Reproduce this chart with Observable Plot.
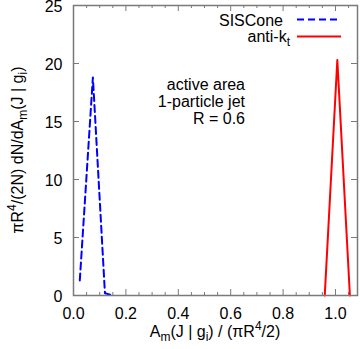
<!DOCTYPE html>
<html><head><meta charset="utf-8">
<script src="https://cdn.jsdelivr.net/npm/d3@7"></script>
<script src="https://cdn.jsdelivr.net/npm/@observablehq/plot@0.6"></script>
<style>html,body{margin:0;padding:0;background:#fff}#chart svg{display:block}</style>
</head><body><div id="chart"></div>
<script>
// ---- data ----
const sisconeX = [0.024, 0.074, 0.120, 0.153];
const sisconeY = [1.3, 18.8, 0.2, 0];
const antiktX = [0.959, 1.007, 1.055];
const antiktY = [0, 20.3, 0];
const xMajorTicks = [0, 0.2, 0.4, 0.6, 0.8, 1];
const xMinorTicks = [0.05, 0.1, 0.15, 0.25, 0.3, 0.35, 0.45, 0.5, 0.55, 0.65, 0.7, 0.75, 0.85, 0.9, 0.95, 1.05];
const yTicks = [0, 5, 10, 15, 20, 25];
const seriesNames = ["SISCone", "anti-k"];
const notes = ["active area", "1-particle jet", "R = 0.6"];

const sis = sisconeX.map((x, i) => ({x, y: sisconeY[i]}));
const akt = antiktX.map((x, i) => ({x, y: antiktY[i]}));

const W = 362, H = 349, mL = 73, mR = 5, mT = 5, mB = 54;
const frameH = H - mT - mB, frameW = W - mL - mR;
const font = "'Liberation Sans', Arial, Helvetica, sans-serif";
const axisColor = "#7a7a7a";
const blue = "#0000ff", red = "#ff0000";

const plot = Plot.plot({
  width: W, height: H,
  marginLeft: mL, marginRight: mR, marginTop: mT, marginBottom: mB,
  style: {fontFamily: font, fontSize: "16px", background: "#fff", color: "#000"},
  x: {domain: [0, 1.084]},
  y: {domain: [0, 25]},
  marks: [
    Plot.axisX({ticks: xMajorTicks, tickSize: 0, tickPadding: 12, fontSize: 16, label: null}),
    Plot.axisY({ticks: yTicks, tickSize: 0, tickPadding: 11, fontSize: 16, label: null, dy: 1}),
    Plot.tickX(xMajorTicks, {x: d => d, insetTop: frameH - 6, stroke: axisColor}),
    Plot.tickX(xMinorTicks, {x: d => d, insetTop: frameH - 3, stroke: axisColor}),
    Plot.tickX(xMajorTicks, {x: d => d, insetBottom: frameH - 6, stroke: axisColor}),
    Plot.tickX(xMinorTicks, {x: d => d, insetBottom: frameH - 3, stroke: axisColor}),
    Plot.tickY(yTicks, {y: d => d, insetRight: frameW - 6, stroke: axisColor}),
    Plot.tickY(yTicks, {y: d => d, insetLeft: frameW - 6, stroke: axisColor}),
    Plot.line(sis, {x: "x", y: "y", stroke: blue, strokeWidth: 2, strokeDasharray: "7,4"}),
    Plot.line(akt, {x: "x", y: "y", stroke: red, strokeWidth: 2}),
    Plot.frame({stroke: axisColor, strokeWidth: 1.5})
  ]
});
document.getElementById("chart").appendChild(plot);

const svg = d3.select(plot);
const g = svg.append("g").attr("font-family", font).attr("font-size", 16).attr("fill", "#000");

function rich(sel, parts) {
  let shift = 0;
  for (const [t, kind] of parts) {
    const target = kind === "sub" ? 4 : kind === "sup" ? -7 : 0;
    sel.append("tspan").attr("dy", target - shift)
      .attr("font-size", kind ? 12 : 16).text(t);
    shift = target;
  }
  return sel;
}

// Y axis label
rich(g.append("text").attr("text-anchor", "middle")
  .attr("transform", `translate(22.5,${mT + frameH / 2}) rotate(-90)`),
  [["\u03c0R"], ["4", "sup"], ["/(2N) dN/dA"], ["m", "sub"], ["(J | g"], ["i", "sub"], [")"]]);

// X axis label
rich(g.append("text").attr("text-anchor", "middle").attr("x", 215).attr("y", 337),
  [["A"], ["m", "sub"], ["(J | g"], ["i", "sub"], [") / (\u03c0R"], ["4", "sup"], ["/2)"]]);

// Legend
g.append("text").attr("text-anchor", "end").attr("x", 283).attr("y", 26).text(seriesNames[0]);
rich(g.append("text").attr("text-anchor", "end").attr("x", 290).attr("y", 42), [[seriesNames[1]], ["t", "sub"]]);
g.append("line").attr("x1", 297).attr("x2", 339).attr("y1", 19.5).attr("y2", 19.5)
  .attr("stroke", blue).attr("stroke-width", 2).attr("stroke-dasharray", "7,4");
g.append("line").attr("x1", 297).attr("x2", 341).attr("y1", 36.5).attr("y2", 36.5)
  .attr("stroke", red).attr("stroke-width", 2);

// Annotation
notes.forEach((t, i) => {
  g.append("text").attr("text-anchor", "end").attr("x", 245).attr("y", 90 + i * 17).text(t);
});
</script>
</body></html>
